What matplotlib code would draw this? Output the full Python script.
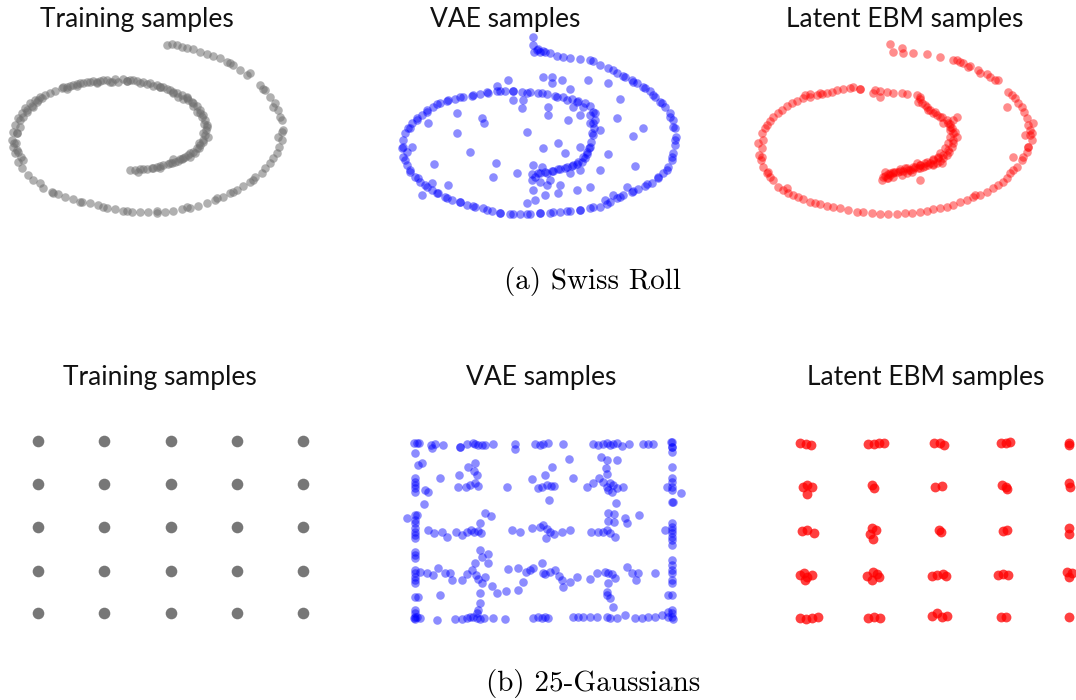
import matplotlib
matplotlib.use("Agg")
import matplotlib.pyplot as plt
import numpy as np

# Values. Each panel keeps its own units
# (zoomed-panel units: 3 units per pixel, y growing downward).

# ---- Swiss roll: training samples
roll_train_x = [500, 515, 530, 545, 560, 580, 600, 620, 640, 660, 680, 700, 720, 740,
                780, 795, 810, 825, 835, 845, 850, 845, 838, 830, 820, 810, 795, 785,
                765, 750, 730, 710, 690, 670, 645, 620, 595, 570, 545, 520, 495, 470,
                445, 420, 395, 370, 345, 320, 295, 270, 245, 220, 195, 175, 155, 130,
                100, 85, 65, 55, 45, 40, 35, 40, 45, 55, 65, 75, 90, 105, 120, 150,
                165, 185, 200, 220, 240, 260, 280, 300, 320, 345, 370, 390, 410, 430,
                450, 470, 490, 510, 530, 545, 560, 575, 590, 600, 610, 615, 620, 618,
                615, 610, 600, 590, 580, 565, 555, 540, 525, 510, 490, 470, 455, 440,
                420, 405, 390,
                70, 80, 95, 110, 125, 200, 230, 290, 335, 380, 420, 480, 520, 560,
                580, 600, 608, 598, 570, 545, 515, 480, 60, 50, 48, 52, 62,
                50, 42, 55, 70, 60, 80, 100, 115, 135, 190, 210, 230, 250, 270, 290,
                310, 330, 355, 380, 400, 440, 460, 480, 500, 520, 535, 550, 565, 580,
                592, 605, 612, 622, 625, 608, 598, 585, 570, 550, 535, 520, 505, 480,
                460, 430, 415,
                690, 750, 790, 820, 840, 845, 835, 760, 700, 650, 560, 470, 380, 310,
                240, 160, 120]
roll_train_y = [135, 132, 135, 140, 145, 148, 155, 162, 168, 175, 185, 195, 210, 225,
                255, 270, 290, 310, 330, 360, 390, 420, 440, 460, 475, 490, 505, 520,
                530, 545, 558, 570, 580, 590, 600, 610, 618, 625, 628, 632, 636, 638,
                637, 636, 635, 632, 628, 625, 615, 610, 605, 598, 592, 582, 575, 565,
                540, 525, 505, 485, 460, 440, 420, 395, 375, 355, 340, 325, 310, 300,
                290, 280, 272, 265, 260, 255, 250, 245, 243, 242, 240, 238, 238, 240,
                242, 245, 250, 255, 262, 270, 278, 285, 295, 305, 318, 330, 345, 360,
                375, 390, 405, 420, 435, 445, 455, 465, 472, 478, 485, 490, 495, 500,
                503, 507, 508, 510, 510,
                350, 330, 318, 305, 295, 268, 258, 250, 245, 243, 250, 262, 275, 290,
                310, 340, 400, 430, 460, 478, 490, 505, 380, 400, 430, 450, 470,
                400, 430, 455, 480, 360, 335, 320, 300, 285, 262, 258, 252, 250, 246,
                245, 240, 245, 245, 243, 240, 252, 258, 262, 268, 280, 290, 298, 300,
                318, 335, 350, 372, 380, 410, 425, 445, 460, 470, 475, 482, 478, 492,
                498, 505, 508, 515,
                190, 220, 268, 320, 350, 395, 410, 540, 575, 595, 622, 632, 632, 620,
                605, 580, 550]

# ---- Swiss roll: VAE samples
roll_vae_x = [520, 520, 522, 535, 550, 570, 590, 610, 630, 660, 690, 700, 720, 745,
              770, 795, 815, 830, 850, 870, 885, 900, 915, 930, 940, 945, 948, 945,
              940, 935, 925, 910, 895, 875, 855, 835, 815, 790, 770, 750, 720, 690,
              660, 630, 600, 570, 540, 510, 480, 450, 420, 395, 370, 345, 320, 300,
              275, 255, 235, 215, 195, 180, 165, 150, 140, 130, 125, 128, 135, 145,
              155, 170, 185, 200, 220, 240, 260, 285, 310, 335, 360, 385, 410, 435,
              460, 485, 510, 535, 560, 585, 610, 635, 655, 675, 690, 700, 705, 702,
              698, 692, 688, 682, 675, 665, 650, 635, 615, 595, 575, 555, 535, 515,
              290, 330, 365, 372, 222, 265, 185, 408, 398, 470, 500, 548, 595, 615,
              520, 545, 560, 595, 555, 520, 525, 500, 445, 550, 575, 575, 605, 630,
              685, 745, 780, 820, 850, 745, 825, 770, 720, 490, 485, 565, 565, 460,
              660, 630, 570, 690, 650, 600, 540, 720, 760, 800, 735, 660, 410, 290,
              205, 155, 215, 640, 660, 625, 690, 705,
              135, 150, 175, 200, 230, 260, 300, 340, 380, 420, 460, 500, 540, 580,
              620, 660, 700, 740, 780, 820, 860, 895, 920, 935, 945, 940, 930, 905,
              880, 855, 820, 790, 760, 140, 130, 150, 170, 200, 230, 265, 300, 340,
              380, 420, 460, 500, 545, 590, 620, 650, 670, 690, 700, 695, 690, 680,
              670, 655, 640, 620, 600, 580, 560, 540, 525, 515, 530, 540, 555]
roll_vae_y = [110, 135, 155, 148, 152, 160, 168, 172, 175, 178, 180, 183, 195, 205,
              220, 230, 240, 250, 262, 272, 290, 305, 320, 340, 360, 385, 410, 435,
              460, 480, 500, 520, 535, 548, 558, 568, 575, 585, 595, 605, 620, 625,
              630, 632, 635, 638, 640, 642, 643, 641, 638, 633, 625, 620, 615, 605,
              600, 592, 580, 570, 555, 545, 530, 515, 495, 470, 445, 420, 400, 385,
              370, 355, 345, 335, 322, 310, 302, 297, 292, 288, 283, 278, 273, 272,
              272, 275, 276, 278, 283, 287, 290, 297, 302, 308, 318, 335, 360, 385,
              405, 425, 445, 462, 475, 485, 492, 498, 503, 508, 512, 516, 520, 523,
              398, 457, 355, 368, 492, 555, 585, 490, 530, 518, 395, 445, 430, 460,
              495, 500, 555, 578, 585, 570, 600, 610, 240, 230, 232, 250, 240, 268,
              240, 248, 298, 408, 385, 462, 498, 355, 390, 300, 323, 320, 345, 300,
              440, 520, 540, 560, 570, 555, 545, 510, 585, 560, 600, 510, 258, 340,
              370, 440, 550, 320, 345, 360, 370, 340,
              480, 510, 535, 560, 580, 595, 605, 618, 630, 640, 642, 642, 640, 636,
              633, 630, 622, 612, 590, 572, 553, 530, 510, 470, 420, 380, 350, 310,
              285, 265, 245, 228, 210, 455, 440, 385, 360, 330, 312, 300, 292, 285,
              276, 272, 272, 278, 280, 290, 300, 305, 320, 345, 370, 400, 440, 455,
              470, 485, 495, 500, 508, 512, 520, 520, 530, 540, 150, 155, 155]

# ---- Swiss roll: latent EBM samples
roll_ebm_x = [510, 520, 545, 550, 580, 620, 660, 700, 720, 750, 775, 800, 825, 865,
              885, 905, 920, 930, 935, 920, 905, 890, 870, 850, 820, 780, 740, 700,
              660, 620, 575, 530, 480, 430, 385, 340, 300, 270, 235, 205, 175, 150,
              130, 118, 115, 125, 140, 160, 185, 215, 250, 290, 320, 350, 390, 420,
              465, 500, 545, 590, 600, 605, 620, 630, 640, 650, 665, 680, 690, 695,
              700, 698, 695, 688, 680, 670, 660, 650, 640, 625, 610, 595, 580, 565,
              550, 535, 520, 505, 495, 485, 860, 915, 710, 255, 270, 300, 685, 675,
              660, 655, 640, 590, 600, 615, 505, 510, 520, 540, 560, 580, 620, 690,
              700, 710, 940, 925, 935, 880, 765, 140, 125, 200, 420, 460, 480, 600,
              710, 730, 745, 780, 810, 835,
              600, 595, 615, 625, 645, 660, 670, 685, 690, 705, 690, 700, 685, 670,
              655, 640, 630, 615, 600, 585, 570, 555, 540, 525, 510, 495, 490, 500,
              520, 545, 560, 575, 600, 640, 665,
              130, 125, 122, 145, 160, 190, 220, 250, 285, 320, 360, 410, 455, 505,
              555, 600, 640, 680, 720, 760, 800, 835, 860, 880, 910, 925, 930, 925,
              912, 895, 875, 135, 150, 175, 200, 230, 270, 305, 335, 370, 400, 480,
              520, 560]
roll_ebm_y = [133, 155, 145, 160, 160, 162, 170, 180, 185, 198, 210, 222, 240, 275,
              295, 320, 355, 390, 420, 455, 480, 500, 520, 545, 565, 585, 600, 615,
              625, 632, 638, 642, 642, 637, 630, 622, 612, 605, 590, 580, 560, 530,
              500, 465, 430, 400, 375, 350, 330, 310, 295, 285, 280, 270, 265, 268,
              270, 275, 280, 285, 298, 310, 320, 330, 338, 345, 352, 360, 372, 385,
              400, 420, 440, 455, 465, 475, 482, 488, 492, 496, 500, 503, 506, 510,
              514, 517, 520, 522, 527, 540, 320, 405, 410, 285, 282, 280, 430, 445,
              460, 470, 478, 490, 495, 498, 535, 520, 515, 508, 505, 500, 485, 380,
              360, 350, 370, 440, 400, 470, 585, 520, 470, 565, 268, 280, 290, 540,
              180, 190, 200, 220, 230, 240,
              290, 305, 315, 330, 335, 350, 370, 370, 390, 395, 410, 430, 450, 465,
              475, 480, 490, 490, 495, 500, 510, 505, 512, 515, 525, 515, 530, 535,
              530, 525, 520, 515, 505, 495, 490,
              420, 445, 480, 515, 540, 570, 585, 598, 608, 618, 625, 635, 640, 642,
              640, 635, 628, 620, 607, 592, 575, 555, 535, 510, 470, 440, 405, 375,
              335, 310, 285, 385, 362, 340, 318, 302, 290, 282, 275, 268, 262, 272,
              278, 282]

# ---- 25 Gaussians: training samples (cluster centres)
gauss_train_x = [113, 313, 512, 710, 908] * 5
gauss_train_y = ([272] * 5 + [403] * 5 + [530] * 5 + [662] * 5 + [790] * 5)

# ---- 25 Gaussians: VAE samples
gauss_vae_x = [162, 170, 178, 212, 225, 250, 300, 320, 338, 345, 355, 365, 375, 400,
               465, 525, 540, 550, 565, 610, 700, 715, 730, 740, 750, 760, 770, 785,
               808, 850, 865, 878, 932, 935, 215, 300, 465,
               165, 165, 165, 165, 165, 165, 165, 165, 165, 165, 165, 165, 165, 165,
               165, 165, 165, 165, 165, 165, 165, 165, 165, 165, 165, 165,
               185, 175, 195, 205, 192, 140, 172,
               240, 298, 295, 318, 330, 345, 355, 325, 345, 342, 350, 442, 515, 535,
               545, 555, 560, 572, 582, 566, 575, 628, 640, 680, 700, 718, 730, 740,
               750, 760, 770, 745, 755, 790, 740, 722, 738, 770, 768, 740,
               935, 935, 935, 935, 935, 935, 935, 935, 935, 935, 935, 935, 935, 935,
               935, 935, 935, 935, 935, 935, 935, 935, 935, 935, 935, 935,
               962, 920, 915, 940,
               205, 222, 245, 262, 288, 305, 322, 332, 342, 355, 362, 360, 375, 392,
               455, 480, 515, 540, 550, 560, 570, 558, 583, 605, 630, 692, 715, 728,
               740, 750, 765, 745, 762, 745, 762, 800, 795, 838,
               180, 200, 220, 235, 255, 275, 270, 305, 322, 335, 345, 348, 355, 365,
               375, 365, 385, 385, 360, 445, 475, 498, 510, 520, 545, 550, 555, 570,
               585, 598, 605, 630, 650, 690, 710, 735, 745, 755, 765, 800, 815, 835,
               828, 885, 740, 750, 745,
               395, 410, 437, 475, 490, 610, 740, 760, 925, 360, 360, 355, 240, 175,
               162, 172, 180, 230, 285, 305, 320, 330, 340, 350, 360, 372, 400, 435,
               520, 535, 545, 555, 565, 640, 655, 670, 690, 710, 740, 750, 770, 795,
               825, 845, 865, 885, 905, 925, 940, 350, 925]
gauss_vae_y = [280, 280, 280, 285, 282, 285, 292, 282, 280, 282, 285, 285, 285, 283,
               282, 282, 285, 282, 280, 283, 283, 285, 282, 280, 285, 282, 280, 288,
               283, 283, 283, 283, 275, 290, 293, 292, 297,
               310, 385, 395, 405, 415, 425, 495, 510, 520, 535, 545, 555, 565, 605,
               615, 625, 660, 670, 680, 690, 700, 740, 780, 790, 800, 808,
               340, 345, 420, 425, 462, 503, 495,
               385, 375, 410, 410, 405, 400, 408, 352, 340, 362, 375, 410, 388, 415,
               410, 375, 405, 408, 408, 450, 350, 328, 385, 410, 400, 385, 395, 410,
               400, 405, 415, 420, 425, 412, 330, 322, 355, 330, 460, 372,
               275, 290, 305, 350, 385, 395, 410, 420, 455, 520, 530, 540, 550, 560,
               570, 585, 630, 645, 660, 670, 690, 700, 735, 780, 790, 800,
               430, 410, 540, 455,
               540, 550, 545, 560, 545, 555, 545, 540, 545, 542, 548, 520, 488, 497,
               540, 545, 533, 530, 525, 537, 545, 565, 553, 545, 540, 545, 545, 545,
               540, 548, 560, 488, 492, 513, 515, 520, 505, 495,
               665, 670, 675, 655, 670, 690, 670, 690, 672, 660, 640, 675, 688, 700,
               680, 620, 612, 640, 600, 657, 655, 665, 660, 655, 640, 668, 672, 665,
               660, 678, 690, 695, 680, 688, 670, 665, 670, 672, 685, 650, 670, 668,
               690, 670, 725, 745, 700,
               707, 730, 722, 720, 695, 710, 735, 770, 735, 730, 760, 780, 735, 742,
               805, 800, 805, 810, 808, 808, 805, 802, 800, 805, 808, 805, 805, 808,
               805, 802, 803, 802, 805, 800, 800, 800, 800, 800, 800, 805, 805, 795,
               805, 805, 802, 800, 795, 800, 808, 790, 785]

# ---- 25 Gaussians: latent EBM samples
gauss_ebm_x = [240, 258, 272, 445, 462, 478, 492, 642, 660, 672, 842, 858, 870, 1046, 1048,
               248, 262, 275, 262, 455, 462, 645, 665, 845, 858, 862, 1046, 1050,
               245, 262, 282, 455, 468, 450, 458, 658, 662, 848, 862, 1046, 1048,
               240, 252, 262, 275, 255, 440, 458, 470, 478, 455, 635, 650, 668, 678,
               835, 850, 865, 1040, 1048, 1055,
               240, 258, 275, 295, 445, 462, 480, 635, 652, 665, 680, 842, 858, 1046]
gauss_ebm_y = [278, 282, 285, 282, 282, 280, 278, 280, 280, 284, 278, 278, 277, 278, 285,
               410, 405, 412, 432, 405, 415, 410, 408, 405, 412, 418, 400, 412,
               543, 540, 548, 535, 540, 552, 568, 540, 545, 543, 540, 535, 552,
               675, 668, 682, 675, 690, 678, 665, 672, 680, 690, 678, 674, 672, 678,
               676, 672, 676, 665, 680, 670,
               805, 806, 804, 802, 803, 800, 803, 798, 790, 800, 797, 800, 802, 800]

titles = ["Training samples", "VAE samples", "Latent EBM samples"]
captions = ["(a) Swiss Roll", "(b) 25-Gaussians"]

W, H = 1076, 700
fig = plt.figure(figsize=(W / 100, H / 100), dpi=100)


def panel(x0, y0, w, h):
    # axes over a pixel region of the figure, units = 3 per pixel, y down
    ax = fig.add_axes([x0 / W, 1 - (y0 + h) / H, w / W, h / H])
    ax.set_xlim(0, 3 * w)
    ax.set_ylim(3 * h, 0)
    ax.axis("off")
    return ax


roll_data = [(roll_train_x, roll_train_y, "#707070", 0.55),
             (roll_vae_x, roll_vae_y, "#0000ff", 0.45),
             (roll_ebm_x, roll_ebm_y, "#ff0000", 0.45)]
for i, (xs, ys, c, a) in enumerate(roll_data):
    ax = panel(360 * i, 0, 360 if i < 2 else 356, 230)
    ax.scatter(xs, ys, s=38, c=c, alpha=a, linewidths=0)

tkw = dict(family="Lato", fontsize=19, ha="center", va="center", color="#111111")
fig.text(137 / W, 1 - 20 / H, titles[0], **tkw)
fig.text(505 / W, 1 - 20 / H, titles[1], **tkw)
fig.text(905 / W, 1 - 20 / H, titles[2], **tkw)

# 25 gaussians
ax = panel(0, 350, 360, 290)
ax.scatter(gauss_train_x, gauss_train_y, s=70, c="#707070", alpha=0.95, linewidths=0)
ax = panel(360, 350, 360, 290)
ax.scatter(gauss_vae_x, gauss_vae_y, s=38, c="#0000ff", alpha=0.45, linewidths=0)
ax = panel(720, 350, 356, 290)
ax.scatter(gauss_ebm_x, gauss_ebm_y, s=50, c="#ff0000", alpha=0.75, linewidths=0)

fig.text(160 / W, 1 - 378 / H, titles[0], **tkw)
fig.text(541 / W, 1 - 378 / H, titles[1], **tkw)
fig.text(926 / W, 1 - 378 / H, titles[2], **tkw)

fig.text(593 / W, 1 - 282 / H, captions[0], family="cmr10", fontsize=21, ha="center", va="center")
fig.text(593 / W, 1 - 683 / H, captions[1], family="cmr10", fontsize=21, ha="center", va="center")

fig.savefig("out.png", dpi=100)
